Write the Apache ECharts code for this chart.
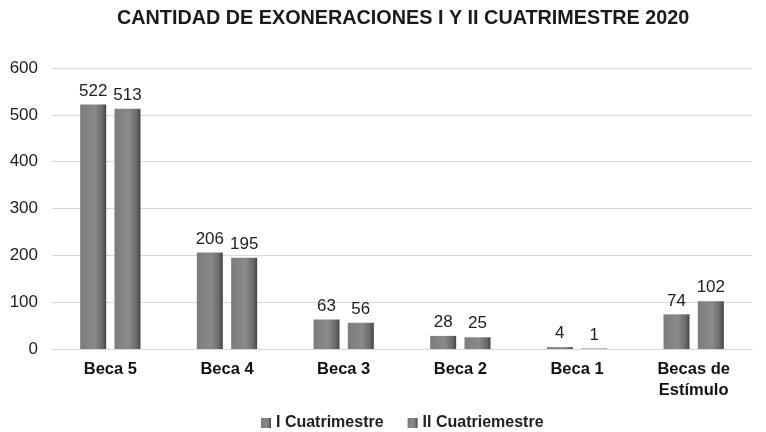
<!DOCTYPE html>
<html>
<head>
<meta charset="utf-8">
<script src="https://cdn.jsdelivr.net/npm/echarts@6/dist/echarts.min.js"></script>
<style>
  html, body { margin: 0; padding: 0; background: #fff; }
  #main { width: 766px; height: 432px; }
</style>
</head>
<body>
<div id="main"></div>
<script>
var categories = ['Beca 5', 'Beca 4', 'Beca 3', 'Beca 2', 'Beca 1', 'Becas de\nEstímulo'];
var cuatri1 = [522, 206, 63, 28, 4, 74];
var cuatri2 = [513, 195, 56, 25, 1, 102];
var yTicks = [0, 100, 200, 300, 400, 500, 600];

// sombreado tipo cilindro, como en el original
var barFill = new echarts.graphic.LinearGradient(0, 0, 1, 0, [
  { offset: 0, color: '#7c7c7c' },
  { offset: 0.55, color: '#8a8a8a' },
  { offset: 0.85, color: '#6a6a6a' },
  { offset: 1, color: '#444' }
]);

var myChart = echarts.init(document.getElementById('main'));
var option = {
  animation: false,
  textStyle: { fontFamily: 'Liberation Sans, Arial, sans-serif' },
  title: {
    text: 'CANTIDAD DE EXONERACIONES I Y II CUATRIMESTRE 2020',
    left: 112,
    top: 4,
    textStyle: { fontSize: 19.8, fontWeight: 'bold', color: '#1a1a1a' }
  },
  legend: {
    bottom: -4,
    left: 256,
    itemWidth: 10,
    itemHeight: 10,
    itemGap: 24,
    icon: 'rect',
    textStyle: { fontSize: 16, fontWeight: 'bold', color: '#222' },
    data: ['I Cuatrimestre', 'II Cuatriemestre']
  },
  grid: { left: 52, right: 14, top: 68, bottom: 83 },
  xAxis: {
    type: 'category',
    data: categories,
    axisLine: { lineStyle: { color: '#d9d9d9' } },
    axisTick: { show: false },
    axisLabel: { fontSize: 16.5, fontWeight: 'bold', color: '#111', margin: 10, lineHeight: 21 }
  },
  yAxis: {
    type: 'value',
    min: yTicks[0],
    max: yTicks[yTicks.length - 1],
    interval: 100,
    axisLine: { show: false },
    axisTick: { show: false },
    splitLine: { lineStyle: { color: '#d9d9d9' } },
    axisLabel: { fontSize: 17, color: '#222', margin: 14 }
  },
  series: [
    {
      name: 'I Cuatrimestre',
      type: 'bar',
      data: cuatri1,
      barWidth: 26,
      barGap: '32%',
      itemStyle: { color: barFill },
      label: { show: true, position: 'top', fontSize: 17, color: '#222', distance: 5 }
    },
    {
      name: 'II Cuatriemestre',
      type: 'bar',
      data: cuatri2,
      barWidth: 26,
      itemStyle: { color: barFill },
      label: { show: true, position: 'top', fontSize: 17, color: '#222', distance: 5 }
    }
  ]
};
myChart.setOption(option);
</script>
</body>
</html>
